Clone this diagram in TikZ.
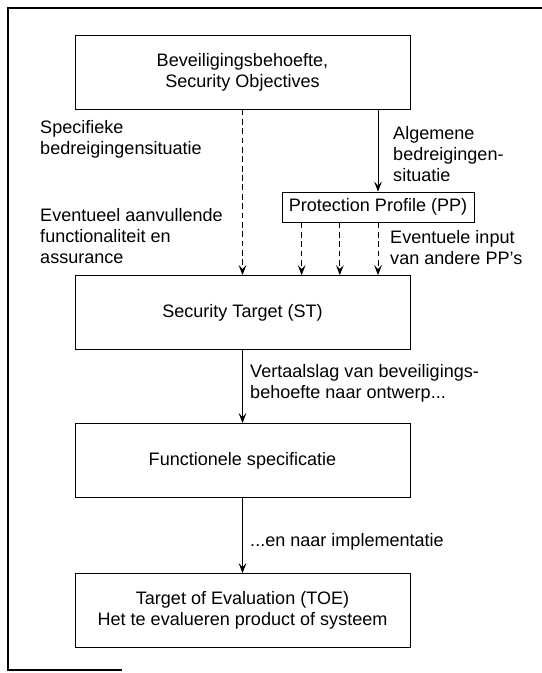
\documentclass[tikz,border=0pt]{standalone}
\usepackage{fontspec}
\setmainfont{Liberation Sans}
\usetikzlibrary{
    arrows.meta,
    positioning,
    calc
}
\newcommand{\labelfont}{\fontsize{15.4}{17.9}\selectfont}
\tikzset{
    % Boxes
    block/.style={
        rectangle,
        draw=black,
        line width=0.7pt,
        minimum width=10.05cm,
        minimum height=2.22cm,
        align=center,
        font=\labelfont
    },
    ppbox/.style={
        rectangle,
        draw=black,
        line width=0.7pt,
        minimum width=5.76cm,
        minimum height=0.9cm,
        inner sep=1pt,
        font=\labelfont
    },
    % Arrows
    arrow/.style={
        -{Stealth[length=3mm,width=2.3mm,inset=1.2mm]},
        line width=0.7pt,
        draw=black
    },
    dashedarrow/.style={
        arrow,
        dash pattern=on 5pt off 3pt
    },
    % Labels
    annotation/.style={
        align=left,
        inner sep=0pt,
        anchor=west,
        font=\labelfont
    }
}

\begin{document}
\begin{tikzpicture}[x=0.03cm, y=-0.03cm]

    \useasboundingbox (0,0) rectangle (542,673);

    % Frame
    \draw[line width=0.9pt] (542,8) -- (8,8) -- (8,670) -- (122,670);

    % Main boxes
    \node[block] (needs) at (242.5,72) {Beveiligingsbehoefte,\\Security Objectives};
    \node[block] (st) at (242.5,312.5) {Security Target (ST)};
    \node[block] (func) at (242.5,460.5) {Functionele specificatie};
    \node[block] (toe) at (242.5,610.5) {Target of Evaluation (TOE)\\Het te evalueren product of systeem};

    % Protection profile
    \node[ppbox] (pp) at (378,207) {Protection Profile (PP)};
    \coordinate (ppa) at ($(pp.south west)!0.104!(pp.south east)$);
    \coordinate (ppb) at ($(pp.south west)!0.302!(pp.south east)$);

    % Labels
    \node[annotation] (specific) at (40,139) {Specifieke\\bedreigingensituatie};
    \node[annotation] (general) at (393,154) {Algemene\\bedreigingen-\\situatie};
    \node[annotation] (extra) at (40,236) {Eventueel aanvullende\\functionaliteit en\\assurance};
    \node[annotation] (otherpp) at (390,248) {Eventuele input\\van andere PP's};
    \node[annotation] (design) at (250,383) {Vertaalslag van beveiligings-\\behoefte naar ontwerp...};
    \node[annotation] (impl) at (250,542) {...en naar implementatie};

    % Arrows
    \draw[dashedarrow] (needs) -- (st);
    \draw[arrow] (needs.south -| pp.north) -- (pp.north);
    \draw[dashedarrow] (ppa) -- (ppa |- st.north);
    \draw[dashedarrow] (ppb) -- (ppb |- st.north);
    \draw[dashedarrow] (pp.south) -- (pp.south |- st.north);
    \draw[arrow] (st) -- (func);
    \draw[arrow] (func) -- (toe);

\end{tikzpicture}
\end{document}
